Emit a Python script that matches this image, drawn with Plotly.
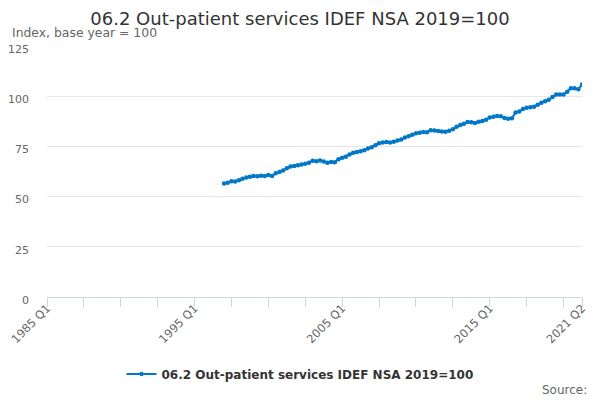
import plotly.graph_objects as go

# Quarterly categories on the x axis: 1985 Q1 .. 2021 Q2
start_year, end_year, end_q = 1985, 2021, 2
quarters = [f"{y} Q{q}" for y in range(start_year, end_year + 1) for q in range(1, 5)]
quarters = quarters[: quarters.index(f"{end_year} Q{end_q}") + 1]

series_name = "06.2 Out-patient services IDEF NSA 2019=100"
series_start = "1997 Q1"
values = [
    56.5, 56.9, 57.6, 57.5, 58.2, 58.9, 59.5, 59.9, 60.3, 60.1, 60.4, 60.2,
    60.8, 60.3, 61.6, 62.2, 63.0, 64.1, 65.0, 65.3, 65.6, 66.0, 66.4, 66.8,
    67.9, 67.6, 68.0, 67.5, 66.8, 67.2, 67.1, 68.6, 69.4, 69.9, 71.0, 71.8,
    72.2, 72.6, 73.1, 74.0, 74.6, 75.6, 76.6, 77.0, 77.2, 76.9, 77.3, 77.9,
    78.4, 79.4, 80.1, 80.8, 81.5, 81.8, 82.2, 82.0, 83.1, 82.9, 82.7, 82.4,
    82.3, 82.8, 83.6, 84.8, 85.6, 86.3, 87.1, 87.0, 86.7, 87.3, 87.6, 88.3,
    89.4, 89.8, 90.2, 90.0, 89.1, 88.8, 89.0, 91.9, 92.4, 93.6, 94.3, 94.5,
    94.8, 95.8, 96.8, 97.5, 98.2, 99.6, 100.8, 100.9, 100.9, 102.2, 103.9, 103.9,
    103.4, 105.8,
]
labelled_ticks = ["1985 Q1", "1995 Q1", "2005 Q1", "2015 Q1", "2021 Q2"]
y_ticks = [0, 25, 50, 75, 100, 125]

i0 = quarters.index(series_start)
x_idx = list(range(i0, i0 + len(values)))
x_text = [quarters[i] for i in x_idx]

# The page body has an 8px margin, so the figure is drawn 8px in from the window edge.
OFF = 8
W, H = 600 - OFF, 400 - OFF
ml, mr, mt, mb = 47 - OFF, 18, 46 - OFF, 103
pw, ph = W - ml - mr, H - mt - mb


def px_x(sx):
    return (sx - OFF - ml) / pw


def px_y(sy):
    return (H - mb - (sy - OFF)) / ph


fig = go.Figure()
fig.add_trace(go.Scatter(
    x=x_idx, y=values, name="<b>" + series_name + "</b>", mode="lines+markers",
    line=dict(color="#0077c8", width=2),
    marker=dict(color="#0077c8", size=4.5, symbol="circle"),
    customdata=x_text,
    hovertemplate="%{customdata}: %{y}<extra></extra>",
))

n = len(quarters) - 1
tickvals = list(range(0, n, 10)) + [n]
ticktext = [quarters[v] if quarters[v] in labelled_ticks else "" for v in tickvals]

fig.update_layout(
    width=W, height=H,
    margin=dict(l=ml, r=mr, t=mt, b=mb, autoexpand=False),
    paper_bgcolor="white", plot_bgcolor="white",
    font=dict(family="DejaVu Sans", color="#666666", size=11),
    title=dict(text=series_name, xref="paper", x=px_x(300), xanchor="center",
               yref="container", y=1 - (18.5 - OFF) / H, yanchor="middle",
               font=dict(size=18, color="#333333")),
    showlegend=True,
    legend=dict(orientation="h", x=px_x(300), xanchor="center", y=px_y(374),
                yanchor="middle", font=dict(size=12, color="#333333", family="DejaVu Sans")),
    xaxis=dict(range=[0, n], tickmode="array", tickvals=tickvals, ticktext=ticktext,
               tickangle=-45, showgrid=False, zeroline=False, automargin=False,
               showline=True, linecolor="#ccd6eb", linewidth=1,
               ticks="outside", ticklen=9, tickcolor="#ccd6eb",
               ticklabeloverflow="allow", ticklabelstandoff=-10,
               tickfont=dict(size=11.5, color="#666666")),
    yaxis=dict(range=[0, 125], tickvals=y_ticks, showgrid=True, gridcolor="#e6e6e6",
               zeroline=False, showline=False, ticks="", ticklabelstandoff=17,
               automargin=False, ticklabelshift=3,
               tickfont=dict(size=11, color="#666666")),
    annotations=[
        dict(text="Index, base year = 100", xref="paper", yref="paper",
             x=px_x(10), y=px_y(32), xanchor="left", yanchor="middle",
             showarrow=False, font=dict(size=12.4, color="#666666")),
        dict(text="Source:", xref="paper", yref="paper",
             x=px_x(589), y=px_y(390), xanchor="right", yanchor="middle",
             showarrow=False, font=dict(size=12, color="#666666")),
    ],
)

fig.write_html("out.html")
